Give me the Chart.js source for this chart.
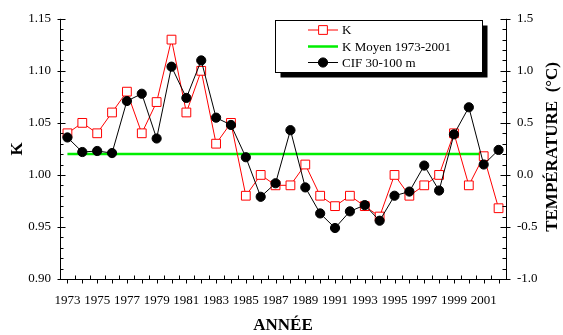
<!DOCTYPE html>
<html>
<head>
<meta charset="utf-8">
<script src="https://cdn.jsdelivr.net/npm/chart.js@4/dist/chart.umd.min.js"></script>
<style>
  body { margin: 0; background: #fff; }
  #wrap { width: 563px; height: 335px; }
</style>
</head>
<body>
<div id="wrap"><canvas id="chart" width="563" height="335"></canvas></div>
<script>
const years = [1973, 1974, 1975, 1976, 1977, 1978, 1979, 1980, 1981, 1982,
  1983, 1984, 1985, 1986, 1987, 1988, 1989, 1990, 1991, 1992,
  1993, 1994, 1995, 1996, 1997, 1998, 1999, 2000, 2001, 2002];
const kValues = [1.04, 1.05, 1.04, 1.06, 1.08, 1.04, 1.07, 1.13, 1.06, 1.10,
  1.03, 1.05, 0.98, 1.00, 0.99, 0.99, 1.01, 0.98, 0.97, 0.98,
  0.97, 0.96, 1.00, 0.98, 0.99, 1.00, 1.04, 0.99, 1.018, 0.968];
const cifValues = [0.36, 0.22, 0.23, 0.21, 0.71, 0.78, 0.35, 1.04, 0.74, 1.10,
  0.55, 0.48, 0.17, -0.21, -0.08, 0.43, -0.12, -0.37, -0.51, -0.35,
  -0.29, -0.44, -0.20, -0.16, 0.09, -0.15, 0.39, 0.65, 0.10, 0.24];
const kMeanYears = [1973, 2001];
const kMeanValue = 1.02;
const yearLabels = [1973, 1975, 1977, 1979, 1981, 1983, 1985, 1987, 1989, 1991, 1993, 1995, 1997, 1999, 2001];
const kTicks = [0.90, 0.95, 1.00, 1.05, 1.10, 1.15];
const tempTicks = [-1.0, -0.5, 0.0, 0.5, 1.0, 1.5];

const FONT = '"Liberation Serif", "Times New Roman", serif';

// axes, tick marks, titles and the boxed legend
const decorPlugin = {
  id: "decor",
  afterDraw(chart) {
    const ctx = chart.ctx;
    const a = chart.chartArea;
    const x = chart.scales.x, y = chart.scales.y, y1 = chart.scales.y1;
    const L = Math.round(a.left) + 0.5, R = Math.round(a.right) + 0.5, B = Math.round(a.bottom) + 0.5;
    ctx.save();
    ctx.strokeStyle = "#000";
    ctx.lineWidth = 1;
    ctx.beginPath();
    ctx.moveTo(L, a.top); ctx.lineTo(L, B); ctx.lineTo(R, B); ctx.lineTo(R, a.top);
    // x ticks: years below, half years above
    for (let yr = years[0]; yr <= years[years.length - 1]; yr++) {
      const px = Math.round(x.getPixelForValue(yr)) + 0.5;
      ctx.moveTo(px, B); ctx.lineTo(px, B + 4);
      if (yr < years[years.length - 1]) {
        const ph = Math.round(x.getPixelForValue(yr + 0.5)) + 0.5;
        ctx.moveTo(ph, B); ctx.lineTo(ph, B - 4);
      }
    }
    // left axis
    for (let i = 0; i <= 25; i++) {
      const v = 0.9 + i * 0.01;
      const py = Math.round(y.getPixelForValue(v)) + 0.5;
      if (i % 5 === 0) { ctx.moveTo(L - 3, py); ctx.lineTo(L + 5, py); }
      else { ctx.moveTo(L, py); ctx.lineTo(L + 3, py); }
    }
    // right axis
    for (let i = 0; i <= 25; i++) {
      const v = -1 + i * 0.1;
      const py = Math.round(y1.getPixelForValue(v)) + 0.5;
      if (i % 5 === 0) { ctx.moveTo(R - 6, py); ctx.lineTo(R + 4, py); }
      else { ctx.moveTo(R - 4, py); ctx.lineTo(R, py); }
    }
    ctx.stroke();

    // axis titles
    ctx.fillStyle = "#000";
    ctx.font = "bold 17px " + FONT;
    ctx.textAlign = "center";
    ctx.textBaseline = "middle";
    ctx.fillText("ANNÉE", (a.left + a.right) / 2, 326);
    const midY = (a.top + a.bottom) / 2;
    ctx.save();
    ctx.translate(18, midY);
    ctx.rotate(-Math.PI / 2);
    ctx.fillText("K", 0, 0);
    ctx.restore();
    ctx.save();
    ctx.translate(553, midY - 2);
    ctx.rotate(-Math.PI / 2);
    ctx.fillText("TEMPÉRATURE  (°C)", 0, 0);
    ctx.restore();

    // legend box with shadow
    const bx = 275.5, by = 20.5, bw = 207, bh = 52;
    ctx.fillStyle = "#000";
    ctx.fillRect(bx + 5, by + 5, bw, bh);
    ctx.fillStyle = "#fff";
    ctx.fillRect(bx, by, bw, bh);
    ctx.strokeRect(bx, by, bw, bh);
    const rows = [30, 46.5, 62.5];
    ctx.font = "13px " + FONT;
    ctx.textAlign = "left";
    chart.data.datasets.forEach((d, r) => {
      const ry = rows[r];
      ctx.strokeStyle = d.borderColor;
      ctx.lineWidth = d.borderWidth;
      ctx.beginPath();
      ctx.moveTo(308, ry); ctx.lineTo(338, ry);
      ctx.stroke();
      if (d.pointRadius > 0) {
        ctx.fillStyle = d.pointBackgroundColor;
        ctx.strokeStyle = d.pointBorderColor;
        ctx.lineWidth = 1;
        ctx.beginPath();
        if (d.pointStyle === "rect") {
          const s = d.pointRadius * Math.SQRT1_2;
          ctx.rect(323 - s, ry - s, 2 * s, 2 * s);
        } else {
          ctx.arc(323, ry, d.pointRadius, 0, Math.PI * 2);
        }
        ctx.fill();
        ctx.stroke();
      }
      ctx.fillStyle = "#000";
      ctx.fillText(d.label, 342, ry + 1);
    });
    ctx.restore();
  },
};

const ctx = document.getElementById("chart").getContext("2d");
new Chart(ctx, {
  type: "line",
  data: {
    datasets: [
      {
        label: "K",
        data: years.map((yr, i) => ({ x: yr, y: kValues[i] })),
        yAxisID: "y",
        borderColor: "#ff0000",
        borderWidth: 1,
        pointStyle: "rect",
        pointRadius: 6.2,
        pointBackgroundColor: "#ffffff",
        pointBorderColor: "#ff0000",
        pointBorderWidth: 1,
        order: 2,
      },
      {
        label: "K Moyen 1973-2001",
        data: kMeanYears.map((yr) => ({ x: yr, y: kMeanValue })),
        yAxisID: "y",
        borderColor: "#00ee00",
        borderWidth: 2.5,
        pointRadius: 0,
        order: 3,
      },
      {
        label: "CIF 30-100 m",
        data: years.map((yr, i) => ({ x: yr, y: cifValues[i] })),
        yAxisID: "y1",
        borderColor: "#000000",
        borderWidth: 1,
        pointStyle: "circle",
        pointRadius: 4.6,
        pointBackgroundColor: "#000000",
        pointBorderColor: "#000000",
        order: 1,
      },
    ],
  },
  options: {
    responsive: false,
    animation: false,
    layout: { padding: { top: 17, left: 0, right: 0, bottom: 0 } },
    plugins: { legend: { display: false }, tooltip: { enabled: false } },
    scales: {
      x: {
        type: "linear",
        min: 1972.5,
        max: 2002.5,
        afterBuildTicks: (s) => { s.ticks = yearLabels.map((v) => ({ value: v })); },
        afterFit: (s) => { s.height = 56; },
        grid: { display: false, drawTicks: false },
        border: { display: false },
        ticks: {
          autoSkip: false, maxRotation: 0, padding: 14, color: "#000",
          font: { family: FONT, size: 13 },
          callback: (v) => String(v),
        },
      },
      y: {
        position: "left",
        min: 0.9,
        max: 1.15,
        afterBuildTicks: (s) => { s.ticks = kTicks.map((v) => ({ value: v })); },
        afterFit: (s) => { s.width = 60; },
        grid: { display: false, drawTicks: false },
        border: { display: false },
        ticks: {
          padding: 9, color: "#000",
          font: { family: FONT, size: 13 },
          callback: (v) => Number(v).toFixed(2),
        },
      },
      y1: {
        position: "right",
        min: -1,
        max: 1.5,
        afterBuildTicks: (s) => { s.ticks = tempTicks.map((v) => ({ value: v })); },
        afterFit: (s) => { s.width = 57; },
        grid: { display: false, drawTicks: false },
        border: { display: false },
        ticks: {
          padding: 11, color: "#000",
          font: { family: FONT, size: 13 },
          callback: (v) => Number(v).toFixed(1),
        },
      },
    },
  },
  plugins: [decorPlugin],
});
</script>
</body>
</html>
